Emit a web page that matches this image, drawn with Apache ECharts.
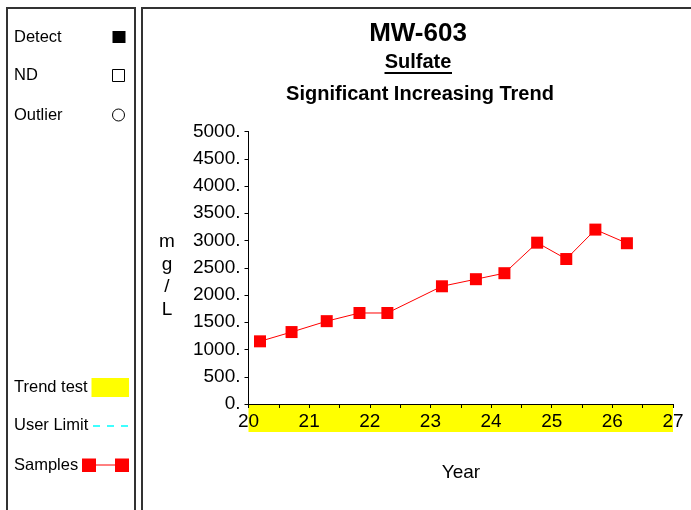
<!DOCTYPE html>
<html>
<head>
<meta charset="utf-8">
<script src="https://cdn.jsdelivr.net/npm/echarts@6/dist/echarts.min.js"></script>
<style>
html,body{margin:0;padding:0;background:#fff;}
#main{width:691px;height:510px;}
</style>
</head>
<body>
<div id="main"></div>
<script>
// ---- data ----
const sampleYears = [20.19, 20.71, 21.29, 21.83, 22.29, 23.19, 23.75, 24.22, 24.76, 25.24, 25.72, 26.24];
const sampleValues = [1150, 1320, 1520, 1670, 1670, 2160, 2290, 2400, 2960, 2660, 3200, 2950];
const trendRange = [20, 27];
const yTicks = { min: 0, max: 5000, step: 500 };
const xTicks = { min: 20, max: 27, step: 1 };
const titleMain = 'MW-603';
const titleSub = 'Sulfate';
const titleTrend = 'Significant Increasing Trend';
const yName = ['m', 'g', '/', 'L'];
const xName = 'Year';
const legendLabels = ['Detect', 'ND', 'Outlier', 'Trend test', 'User Limit', 'Samples'];

const FONT = '"Liberation Sans", Arial, Helvetica, sans-serif';
const chart = echarts.init(document.getElementById('main'), null, { renderer: 'canvas' });

const points = sampleYears.map((x, i) => [x, sampleValues[i]]);

function txt(text, x, y, size, bold, align) {
  return {
    type: 'text', x: x, y: y, z: 10,
    style: {
      text: text, fill: '#000',
      font: (bold ? 'bold ' : '') + size + 'px ' + FONT,
      textAlign: align || 'left', textVerticalAlign: 'middle'
    }
  };
}

const baseGraphics = [
  // panel borders
  { type: 'rect', shape: { x: 7, y: 8, width: 128, height: 600 }, style: { fill: 'none', stroke: '#333', lineWidth: 2 } },
  { type: 'rect', shape: { x: 142, y: 8, width: 600, height: 600 }, style: { fill: 'none', stroke: '#333', lineWidth: 2 } },
  // titles
  txt(titleMain, 418, 34, 26, true, 'center'),
  txt(titleSub, 418, 62, 20, true, 'center'),
  { type: 'line', shape: { x1: 384.5, y1: 73, x2: 452, y2: 73 }, style: { stroke: '#000', lineWidth: 2 } },
  txt(titleTrend, 420, 94, 20, true, 'center'),
  // axis names
  {
    type: 'text', x: 167, y: 276, z: 10,
    style: {
      text: yName.join('\n'), fill: '#000', font: '19px ' + FONT,
      lineHeight: 22.5, textAlign: 'center', textVerticalAlign: 'middle'
    }
  },
  txt(xName, 461, 473, 19, false, 'center'),
  // legend texts
  txt(legendLabels[0], 14, 37, 16.5, false),
  txt(legendLabels[1], 14, 75.5, 16.5, false),
  txt(legendLabels[2], 14, 115, 16.5, false),
  txt(legendLabels[3], 14, 387, 16.5, false),
  txt(legendLabels[4], 14, 425.5, 16.5, false),
  txt(legendLabels[5], 14, 465, 16.5, false),
  // legend icons
  { type: 'rect', shape: { x: 112.5, y: 31, width: 13, height: 12 }, style: { fill: '#000' } },
  { type: 'rect', shape: { x: 112.5, y: 69.5, width: 12, height: 12 }, style: { fill: '#fff', stroke: '#000', lineWidth: 1 } },
  { type: 'circle', shape: { cx: 118.5, cy: 115, r: 6 }, style: { fill: '#fff', stroke: '#000', lineWidth: 1 } },
  { type: 'rect', shape: { x: 91.5, y: 378, width: 37.5, height: 19 }, style: { fill: '#ffff00' } },
  { type: 'line', shape: { x1: 93, y1: 426, x2: 129, y2: 426 }, style: { stroke: '#00ffff', lineWidth: 1.5, lineDash: [7, 7] } },
  { type: 'line', shape: { x1: 89, y1: 465, x2: 122, y2: 465 }, style: { stroke: '#ff0000', lineWidth: 1 } },
  { type: 'rect', shape: { x: 82, y: 458.5, width: 14, height: 13.5 }, style: { fill: '#ff0000' } },
  { type: 'rect', shape: { x: 115, y: 458.5, width: 14, height: 13.5 }, style: { fill: '#ff0000' } }
];

const option = {
  animation: false,
  backgroundColor: '#fff',
  textStyle: { fontFamily: FONT },
  grid: { left: 248.5, top: 131.5, width: 424.5, height: 272.5, containLabel: false },
  xAxis: {
    type: 'value', min: xTicks.min, max: xTicks.max, interval: xTicks.step,
    axisLine: { show: true, onZero: false, lineStyle: { color: '#000', width: 1 } },
    axisTick: { show: true, inside: false, length: 4, lineStyle: { color: '#000' } },
    minorTick: { show: true, splitNumber: 2, length: 4, lineStyle: { color: '#000' } },
    splitLine: { show: false },
    axisLabel: { color: '#000', fontSize: 19, fontFamily: FONT, margin: 8, showMinLabel: true, showMaxLabel: true }
  },
  yAxis: {
    type: 'value', min: yTicks.min, max: yTicks.max, interval: yTicks.step,
    axisLine: { show: true, lineStyle: { color: '#000', width: 1 } },
    axisTick: { show: true, inside: false, length: 4, lineStyle: { color: '#000' } },
    splitLine: { show: false },
    axisLabel: { color: '#000', fontSize: 19, fontFamily: FONT, margin: 8, formatter: v => v + '.' }
  },
  series: [{
    type: 'line', data: points,
    symbol: 'rect', symbolSize: 12, showSymbol: true,
    itemStyle: { color: '#ff0000' },
    lineStyle: { color: '#ff0000', width: 1 },
    z: 5
  }],
  graphic: { elements: baseGraphics }
};
chart.setOption(option);

// trend test band under the x axis, positioned through the axis scales
const bx0 = chart.convertToPixel({ xAxisIndex: 0 }, trendRange[0]);
const bx1 = chart.convertToPixel({ xAxisIndex: 0 }, trendRange[1]);
const by0 = chart.convertToPixel({ yAxisIndex: 0 }, yTicks.min);
chart.setOption({
  graphic: {
    elements: baseGraphics.concat([
      { type: 'rect', z: -5, zlevel: 0, shape: { x: bx0, y: by0, width: bx1 - bx0, height: 28 }, style: { fill: '#ffff00' } }
    ])
  }
}, { replaceMerge: ['graphic'] });
</script>
</body>
</html>
